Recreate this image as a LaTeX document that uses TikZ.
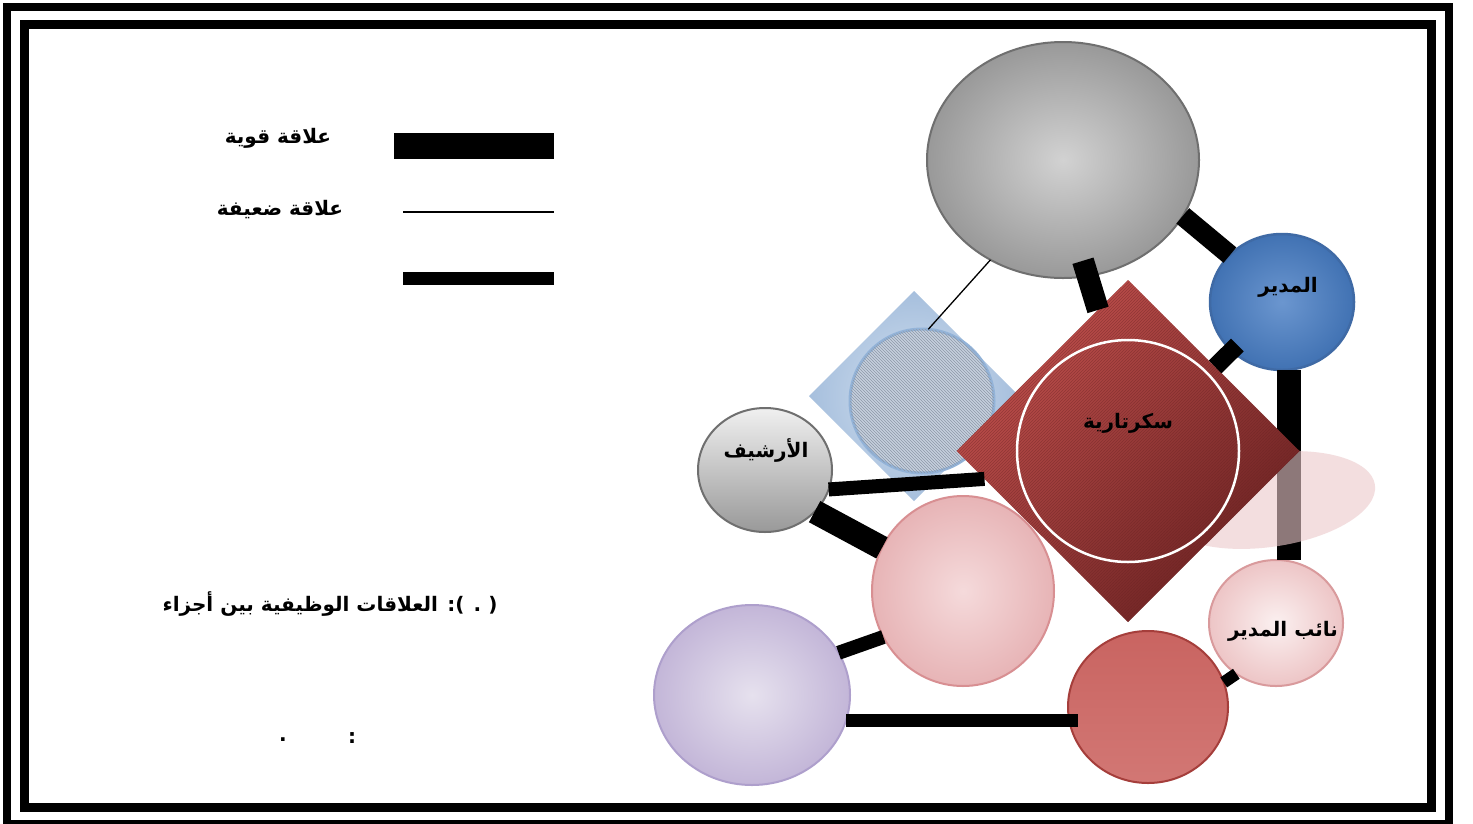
\documentclass[tikz,border=0pt]{standalone}
\usepackage{fontspec}
\usetikzlibrary{shapes.geometric,patterns}
\TeXXeTstate=1
\newfontfamily\arabicfont[Script=Arabic]{DejaVu Sans}
\newcommand{\artext}[1]{{\arabicfont\bfseries\beginR #1\endR}}

\definecolor{topin}{HTML}{D2D2D2}
\definecolor{topout}{HTML}{999999}
\definecolor{grayline}{HTML}{6F6F6F}
\definecolor{bossin}{HTML}{6B96CF}
\definecolor{bossout}{HTML}{4172B3}
\definecolor{bossline}{HTML}{3F6AA5}
\definecolor{secred}{HTML}{C4524F}
\definecolor{secdark}{HTML}{6A2222}
\definecolor{bluein}{HTML}{D4E1F0}
\definecolor{blueout}{HTML}{A6BFDD}
\definecolor{hatchfill}{HTML}{C6D0DE}
\definecolor{hatchline}{HTML}{93B3D8}
\definecolor{hatchdark}{HTML}{8D99A8}
\definecolor{pinkin}{HTML}{F5DADB}
\definecolor{pinkout}{HTML}{E7B4B6}
\definecolor{pinkline}{HTML}{D88F92}
\definecolor{lavin}{HTML}{E6E1EE}
\definecolor{lavout}{HTML}{C3B6D8}
\definecolor{lavline}{HTML}{AE9FCC}
\definecolor{redtop}{HTML}{C96461}
\definecolor{redmid}{HTML}{BF4A47}
\definecolor{redbot}{HTML}{D27774}
\definecolor{redline}{HTML}{A53E3B}
\definecolor{depin}{HTML}{FBF0F0}
\definecolor{depout}{HTML}{EDC5C6}
\definecolor{depline}{HTML}{D99A9C}
\definecolor{refpink}{HTML}{EBC9CB}

\begin{document}
\begin{tikzpicture}[x=1pt,y=-1pt]
\tikzset{every node/.append style={inner sep=0pt,outer sep=0pt},
  bubble/.style={ellipse,line width=2pt},
  bar/.style={line width=#1,line cap=butt},
  labeltext/.style={font=\fontsize{20}{24}\selectfont},
  legendtext/.style={font=\fontsize{20}{24}\selectfont}}
\useasboundingbox (0,0) rectangle (1473,823);
\fill[white] (0,0) rectangle (1473,823);
\draw[line width=8pt] (7,7) rectangle (1449,824);
\draw[line width=9pt] (24.5,24.5) rectangle (1431,807);
% legend
\fill (394,133) rectangle (554,159);
\draw[line width=1.3pt] (403,212) -- (554,212);
\fill (403,272) rectangle (554,285);
\node[legendtext] (strongtxt) at (278,138) {\artext{علاقة قوية}};
\node[legendtext] (weaktxt) at (280,210) {\artext{علاقة ضعيفة}};
\node[legendtext] (caption) at (330,604) {\artext{( . ): العلاقات الوظيفية بين أجزاء}};
\node[legendtext] (colon) at (352,738) {\artext{:}};
\node[legendtext] (dot) at (283,740) {\artext{.}};
% nodes
\node[bubble,draw=grayline,inner color=topin,outer color=topout,
  minimum width=272,minimum height=236] (top) at (1063,160) {};
\node[bubble,draw=bossline,line width=2.5pt,inner color=bossin,outer color=bossout,
  minimum width=144,minimum height=136] (boss) at (1282,302) {};
\node[bubble,draw=depline,inner color=depin,outer color=depout,
  minimum width=134,minimum height=126] (deputy) at (1276,623) {};
\draw[bar=24pt] (boss.-84) -- (boss.-84 |- deputy.north);
\fill[refpink,fill opacity=0.6,rotate around={8:(1268,500)}]
  (1268,500) ellipse [x radius=108,y radius=47];
\node[diamond,inner color=bluein,outer color=blueout,
  minimum width=210,minimum height=210] (bluediam) at (914,396) {};
\node[circle,draw=hatchline,line width=3pt,fill=hatchfill,minimum size=144,
  postaction={pattern=north west lines,pattern color=hatchdark}] (hatch) at (922,401) {};
\node[diamond,top color=secred,bottom color=secdark,shading angle=45,
  minimum width=343,minimum height=342,
  postaction={pattern=north east lines,pattern color=secdark,opacity=0.45}] (sec) at (1128,451) {};
\node[circle,draw=white,line width=2.5pt,minimum size=222] (secring) at (1128,451) {};
\node[bubble,draw=grayline,top color=white!94!black,bottom color=white!60!black,
  minimum width=134,minimum height=124] (archive) at (765,470) {};
\node[bubble,draw=pinkline,inner color=pinkin,outer color=pinkout,
  minimum width=182,minimum height=190] (pink) at (963,591) {};
\node[bubble,draw=lavline,inner color=lavin,outer color=lavout,
  minimum width=196,minimum height=180] (lav) at (752,695) {};
\node[bubble,draw=redline,top color=redtop,middle color=redmid,bottom color=redbot,
  minimum width=160,minimum height=152] (red) at (1148,707) {};
% links
\draw[bar=20pt] (top.-25) -- (boss.138);
\draw[bar=22pt,shorten <=-16pt] (top.-78) -- (sec.102);
\draw[line width=1.3pt] (top.-126) -- (hatch.85);
\draw[bar=18pt,shorten <=-8pt] (boss.-136) -- (sec.44);
\draw[bar=14pt] (archive.-17) -- (sec.-169);
\draw[bar=24pt] (archive.-40) -- (pink.152);
\draw[bar=14pt] (pink.-150) -- (lav.26);
\draw[bar=13pt,shorten >=-10pt] (lav.-15) -- (lav.-15 -| red.west);
\draw[bar=12pt] (red.18) -- (deputy.-128);
% labels
\node[labeltext] (bosstxt) at (1288,287) {\artext{المدير}};
\node[labeltext] (sectxt) at (1128,423) {\artext{سكرتارية}};
\node[labeltext] (archivetxt) at (766,450) {\artext{الأرشيف}};
\node[labeltext] (deputytxt) at (1283,631) {\artext{نائب المدير}};
\end{tikzpicture}
\end{document}
